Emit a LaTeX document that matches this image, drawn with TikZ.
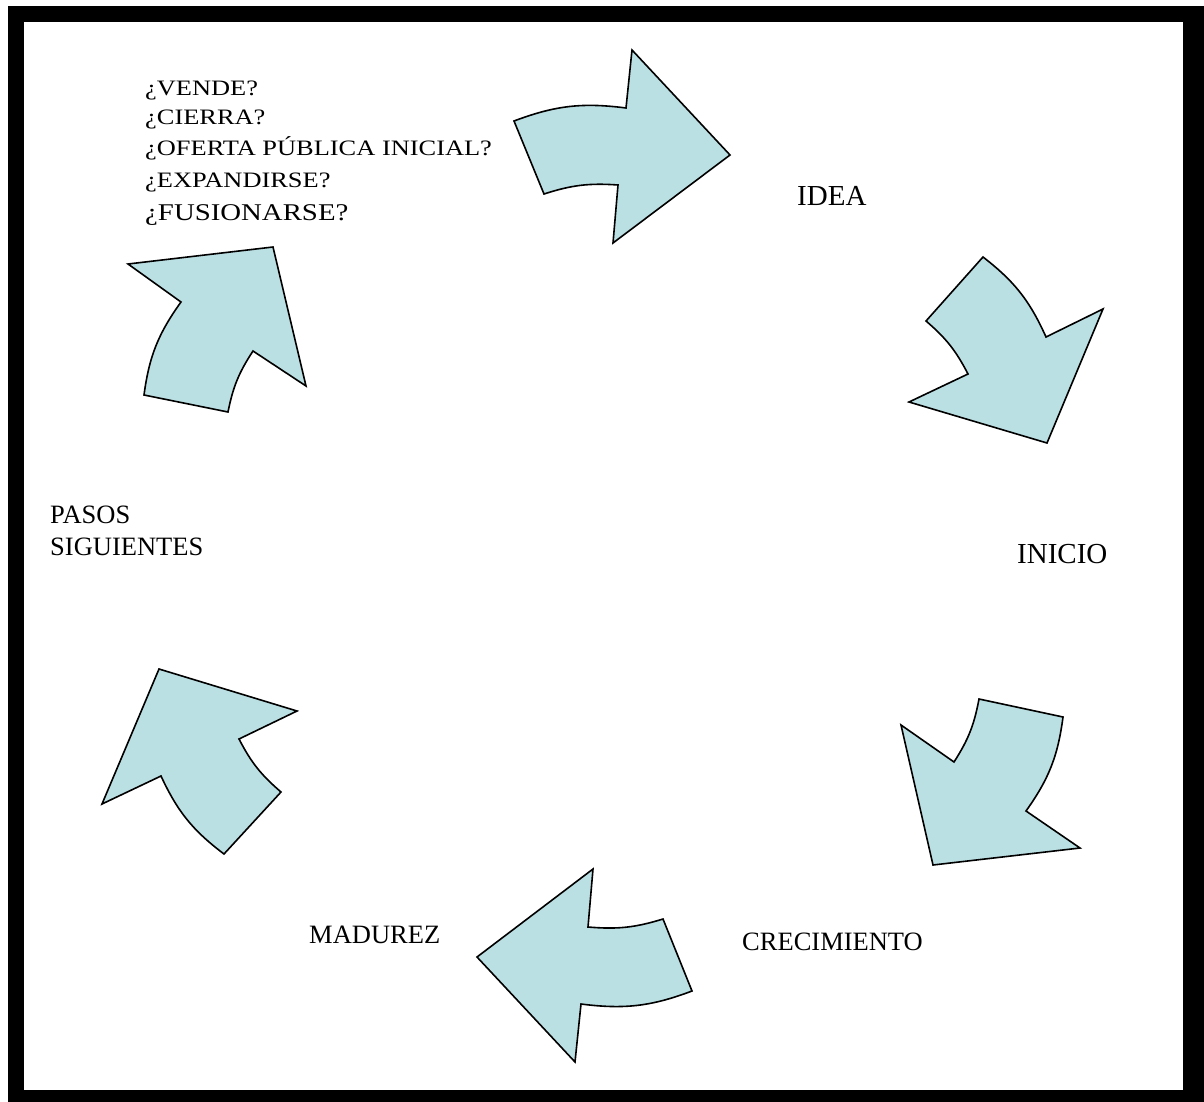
\documentclass[tikz,border=0pt]{standalone}
\usepackage{fontspec}
\setmainfont{Liberation Serif}
\newfontfamily\widefont[FakeStretch=1.2]{Liberation Serif}
\usetikzlibrary{positioning}
\definecolor{arrowfill}{RGB}{187,224,227}

\begin{document}
\begin{tikzpicture}[x=1pt,y=-1pt,
    cyclearrow/.style={draw=black,fill=arrowfill,line width=1.6pt,line join=miter},
    stage/.style={anchor=base west,inner sep=0pt,font=\fontsize{26.5}{32}\selectfont},
    bigstage/.style={stage,font=\fontsize{29}{34}\selectfont},
    question/.style={anchor=base west,inner sep=0pt,font=\widefont\fontsize{22}{31}\selectfont}]
    \useasboundingbox (0,0) rectangle (1204,1102);
    % frame
    \fill[black] (8,6) rectangle (1204,1102);
    \fill[white] (24,22) rectangle (1183,1090);

    % the six curved arrows of the cycle
    \draw[cyclearrow] (514,121) to[bend left=14] (626,108) -- (632,50) -- (730,155) -- (613,243) -- (618,185) to[bend right=11] (544,194) -- cycle;
    \draw[cyclearrow] (983,257) to[bend left=14] (1046,337) -- (1103,309) -- (1047,443) -- (909,402) -- (968,374) to[bend right=11] (926,321) -- cycle;
    \draw[cyclearrow] (1063,717) to[bend left=14] (1026,811) -- (1080,848) -- (933,865) -- (901,725) -- (954,762) to[bend right=11] (979,699) -- cycle;
    \draw[cyclearrow] (692,991) to[bend left=14] (581,1004) -- (575,1062) -- (477,957) -- (593,869) -- (588,927) to[bend right=11] (663,919) -- cycle;
    \draw[cyclearrow] (224,854) to[bend left=14] (161,776) -- (102,804) -- (159,669) -- (297,711) -- (239,739) to[bend right=11] (281,792) -- cycle;
    \draw[cyclearrow] (144,395) to[bend left=14] (181,302) -- (128,264) -- (273,247) -- (306,386) -- (253,351) to[bend right=11] (228,412) -- cycle;

    % stages
    \node[bigstage] (idea) at (797,206) {IDEA};
    \node[bigstage] (inicio) at (1017,563) {INICIO};
    \node[stage] (crecimiento) at (742,950) {CRECIMIENTO};
    \node[stage] (madurez) at (309,943) {MADUREZ};
    \node[stage] (pasos) at (50,523) {PASOS};
    \node[stage] (siguientes) at (50,555) {SIGUIENTES};

    % questions
    \node[question] (vende) at (145,96) {¿VENDE?};
    \node[question] (cierra) at (145,125) {¿CIERRA?};
    \node[question] (oferta) at (145,156) {¿OFERTA PÚBLICA INICIAL?};
    \node[question] (expandirse) at (145,188) {¿EXPANDIRSE?};
    \node[question,font=\widefont\fontsize{24}{33}\selectfont] (fusionarse) at (145,221) {¿FUSIONARSE?};
\end{tikzpicture}
\end{document}
